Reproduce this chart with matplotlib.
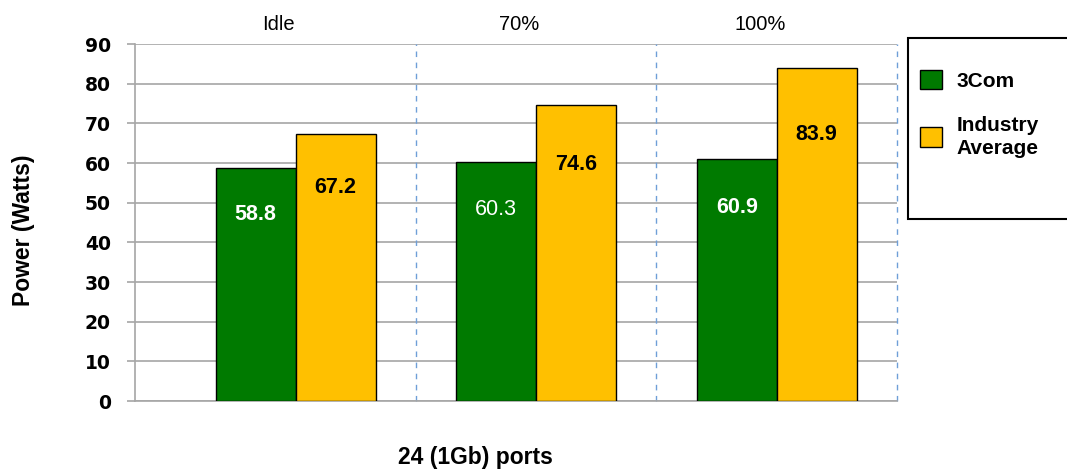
import matplotlib.pyplot as plt
import matplotlib.patches as mpatches
import numpy as np

plt.rcParams['font.family'] = ['Liberation Sans', 'DejaVu Sans']

# data
categories = ['Idle', '70%', '100%']
series_names = ['3Com', 'Industry\nAverage']
threecom = [58.8, 60.3, 60.9]
industry = [67.2, 74.6, 83.9]
yticks = [0, 10, 20, 30, 40, 50, 60, 70, 80, 90]

green = '#007A00'
yellow = '#FFC000'
grid_gray = '#A6A6A6'

fig = plt.figure(figsize=(10.67, 4.69), dpi=100)
ax = fig.add_axes([135 / 1067, 1 - 401 / 469, (897 - 135) / 1067, (401 - 44) / 469])

x = np.arange(len(categories))
w = 0.332
b1 = ax.bar(x - w / 2, threecom, w, color=green, edgecolor='black', linewidth=1, zorder=3, label=series_names[0])
b2 = ax.bar(x + w / 2, industry, w, color=yellow, edgecolor='black', linewidth=1, zorder=3, label=series_names[1])

# value labels inside bars
green_weights = ['bold', 'normal', 'bold']
for xi, v, fw in zip(x, threecom, green_weights):
    ax.text(xi - w / 2, v * 0.8, f'{v:.1f}', ha='center', va='center', color='white',
            fontsize=15.5, fontweight=fw, zorder=4)
for xi, v in zip(x, industry):
    ax.text(xi + w / 2, v * 0.8, f'{v:.1f}', ha='center', va='center', color='black',
            fontsize=15.5, fontweight='bold', zorder=4)

# category labels on top
for xi, c in zip(x, categories):
    ax.text(xi - 0.07, 1.056, c, transform=ax.get_xaxis_transform(), ha='center', va='center',
            fontsize=14.5)

# dashed separators
for xs in x + 0.5:
    ax.axvline(xs, color='#6F9FD8', linestyle=(0, (4, 4)), linewidth=1, zorder=2, clip_on=False)

ax.set_xlim(-0.668, 2.5)
ax.set_ylim(0, 90)
ax.set_yticks(yticks)
ax.set_yticklabels([str(t) for t in yticks], fontsize=13.5, fontweight='bold', family='DejaVu Sans')
ax.set_xticks([])
ax.yaxis.grid(True, color=grid_gray, linewidth=1.2, zorder=1)
ax.tick_params(axis='y', length=5.8, color=grid_gray, width=1.2, pad=11.5)
for s in ['top', 'right']:
    ax.spines[s].set_visible(False)
for s in ['left', 'bottom']:
    ax.spines[s].set_color(grid_gray)
    ax.spines[s].set_linewidth(1.2)

fig.text(24 / 1067, 1 - 230 / 469, 'Power (Watts)', rotation=90, ha='center', va='center',
         fontsize=16.5, fontweight='bold')
fig.text(475 / 1067, 1 - 457 / 469, '24 (1Gb) ports', ha='center', va='center',
         fontsize=16.5, fontweight='bold')

# legend box extends past right edge
fig.patches.append(mpatches.Rectangle((908 / 1067, 1 - 219 / 469), 0.2, (219 - 38) / 469,
                                      transform=fig.transFigure, facecolor='white',
                                      edgecolor='black', linewidth=1.5))
leg = fig.legend(handles=[b1, b2], labels=series_names, loc='upper left',
                 bbox_to_anchor=(901 / 1067, 1 - 51 / 469), frameon=False,
                 prop={'size': 15, 'weight': 'bold'}, handlelength=1.05, handleheight=1.05,
                 handletextpad=0.7, labelspacing=1.2)
for t in leg.get_texts():
    t.set_linespacing(1.3)

plt.savefig('out.png', dpi=100)
